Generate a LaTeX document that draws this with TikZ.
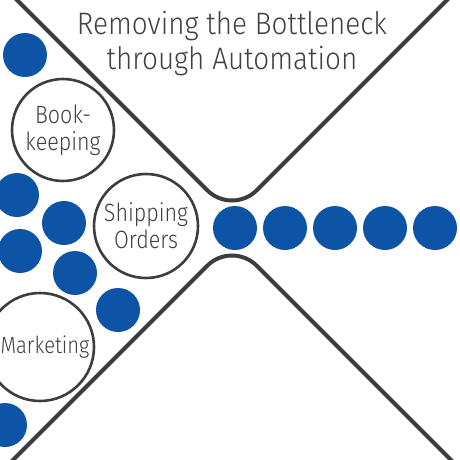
\documentclass[tikz,border=0pt]{standalone}
\usepackage{fontspec}
\setmainfont{Fira Sans}[UprightFont=* Light, FakeStretch=0.86]
\newfontfamily\titlefont{Fira Sans}[UprightFont=* Light, FakeStretch=0.9]

\begin{document}
\begin{tikzpicture}[
    x=1pt, y=-1pt,
    every node/.style={text=textgray},
    dot/.style={circle, fill=dotblue, minimum size=44pt, inner sep=0pt},
    task/.style={circle, draw=linegray, line width=2.6pt, inner sep=0pt,
        align=center, font=\fontsize{25}{27}\selectfont},
    funnel/.style={draw=linegray, line width=4pt, rounded corners=35pt}
]
\definecolor{dotblue}{RGB}{14,84,166}    % Blue
\definecolor{linegray}{RGB}{61,61,61}    % Dark grey
\definecolor{textgray}{RGB}{64,64,64}    % Text grey

\useasboundingbox (0,0) rectangle (460,460);

% Funnel walls
\begin{scope}
\clip (0,0) rectangle (460,460);
\draw[funnel] (-10,-27) -- (232,215) -- (474,-27);
\draw[funnel] (-10,483) -- (232,241) -- (474,483);
\end{scope}

% Title
\node[font=\titlefont\fontsize{31}{35}\selectfont, align=center] (title) at (232,44)
{Removing the Bottleneck\\through Automation};

% Tasks waiting in front of the neck
\node[task, minimum size=102pt] (bookkeeping) at (63,130) {Book-\\keeping};
\node[task, minimum size=104pt] (shipping) at (146,226) {Shipping\\Orders};
\node[task, minimum size=108pt,
    label={[xshift=5pt, font=\fontsize{23.5}{27}\selectfont]center:Marketing}]
    (marketing) at (40,347) {};

\node[dot] (d1) at (25,55) {};
\node[dot] (d2) at (17,195) {};
\node[dot] (d3) at (64,223) {};
\node[dot] (d4) at (20,251) {};
\node[dot] (d5) at (75,273) {};
\node[dot] (d6) at (118,310) {};
\node[dot] (d7) at (5,425) {};

% Flow after the neck
\foreach \i/\x in {1/235,2/285,3/335,4/385,5/435}
    \node[dot] (out\i) at (\x,228) {};

\end{tikzpicture}
\end{document}
